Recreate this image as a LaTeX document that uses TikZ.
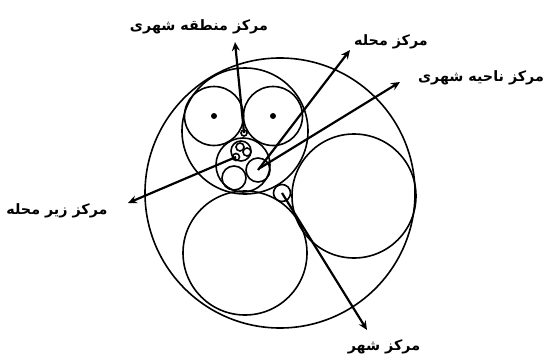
\documentclass[tikz,border=0pt]{standalone}
\usepackage{fontspec}
\newfontfamily\farsifont[Script=Arabic]{DejaVu Sans Bold}
\TeXXeTstate=1
\usetikzlibrary{arrows.meta, calc, positioning}
\pgfkeys{/tikz/.cd,
    overall style/.style={
        x=1pt, y=-1pt,     % pixel-like coordinates
        >={Stealth[length=9pt, width=8pt, inset=3pt]},
        line width=1.6pt
    },
    ring style/.style={draw, circle, inner sep=0pt, minimum size=#1},
    arrow style/.style={->, line width=2.2pt},
    label style/.style={font=\farsifont\fontsize{14.3}{16}\selectfont, inner sep=1pt}
}

\begin{document}
\begin{tikzpicture}[overall style]
    \useasboundingbox (0,0) rectangle (547,356);

    % --- 1. circles ---
    \node[ring style=270pt] (city) at (280,193) {};
    \node[ring style=126pt] (region) at (245,131) {};
    \node[ring style=59pt] (leftcell) at (214,116) {};
    \node[ring style=59pt] (rightcell) at (273,116) {};
    \node[ring style=6pt] (regioncenter) at (244,133) {};
    \node[ring style=54pt] (district) at (243,165) {};
    \node[ring style=24pt] (nbA) at (234,178) {};
    \node[ring style=24pt] (nbB) at (258,170) {};
    \node[ring style=20pt] (nbC) at (241,151) {};
    \node[ring style=8pt] (subA) at (240,147) {};
    \node[ring style=8pt] (subB) at (247,152) {};
    \node[ring style=7pt] (subC) at (236,157) {};
    \node[ring style=124pt] (lowcell) at (245,253) {};
    \node[ring style=124pt] (eastcell) at (354,196) {};
    \node[ring style=17pt] (citycenter) at (282,193) {};

    % dots
    \foreach \c in {leftcell, rightcell}
        \fill (\c) circle (3pt);

    % --- 2. arrow tips ---
    \coordinate (tipRegion) at (235,42);
    \coordinate (tipNb) at (350,50);
    \coordinate (tipDistrict) at (400,82);
    \coordinate (tipSub) at (128,203);
    \coordinate (tipCity) at (367,330);

    % --- 3. labels ---
    \node[label style] (lblRegion) at (199,27) {\beginR مرکز منطقه شهری\endR};
    \node[label style] (lblNb) at (391,42) {\beginR مرکز محله\endR};
    \node[label style] (lblDistrict) at (481,78) {\beginR مرکز ناحیه شهری\endR};
    \node[label style] (lblSub) at (57,211) {\beginR مرکز زیر محله\endR};
    \node[label style] (lblCity) at (384,347) {\beginR مرکز شهر\endR};

    % --- 4. arrows ---
    \draw[arrow style] (regioncenter.center) -- (tipRegion);
    \draw[arrow style] (nbB.center) -- (tipNb);
    \draw[arrow style] ($(nbB.center)+(2,-2)$) -- (tipDistrict);
    \draw[arrow style] (subC.center) -- (tipSub);
    \draw[arrow style] (citycenter.center) -- (tipCity);

\end{tikzpicture}
\end{document}
